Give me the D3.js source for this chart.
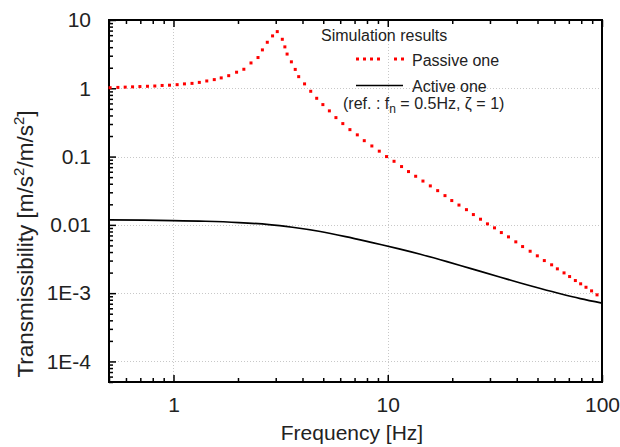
<!DOCTYPE html>
<html>
<head>
<meta charset="utf-8">
<script src="https://cdn.jsdelivr.net/npm/d3@7"></script>
<style>
  html, body { margin: 0; padding: 0; background: #fff; }
  svg { display: block; font-family: "Liberation Sans", Arial, Helvetica, sans-serif; }
</style>
</head>
<body>
<svg id="chart" width="620" height="447"></svg>
<script>
// ---- data ----
const passiveFreq = [0.506,0.55,0.595,0.644,0.697,0.756,0.818,0.885,0.958,1.04,1.125,1.22,1.32,1.43,1.55,1.67,1.81,1.97,2.13,2.30,2.48,2.60,2.74,2.90,3.05,3.22,3.31,3.39,3.55,3.70,3.84,4.09,4.37,4.66,4.98,5.34,5.73,6.17,6.66,7.21,7.77,8.43,9.13,9.87,10.7,11.6,12.5,13.5,14.6,15.8,17.1,18.5,19.9,21.5,23.3,25.1,27.1,29.2,31.5,33.9,36.6,39.6,42.6,46.2,49.9,53.8,58.2,61.9,66.5,70.6,75.1,79.5,84.2,89.4,94.8];
const passiveVal = [1.02,1.03,1.04,1.05,1.06,1.07,1.08,1.10,1.11,1.13,1.16,1.18,1.22,1.28,1.34,1.42,1.53,1.72,1.90,2.35,2.82,3.65,4.72,5.85,6.76,5.22,4.04,3.17,2.44,1.89,1.48,1.16,0.904,0.714,0.577,0.467,0.372,0.304,0.248,0.208,0.171,0.143,0.120,0.100,0.0853,0.0714,0.0603,0.0515,0.0438,0.0372,0.0317,0.0268,0.0227,0.0195,0.0167,0.01415,0.0121,0.01034,0.00904,0.00771,0.00667,0.00564,0.00481,0.00411,0.00352,0.0030,0.0026,0.00227,0.00198,0.00175,0.00153,0.00137,0.00122,0.00108,0.000944];
const activeFreq = [0.5,0.99,1.41,2.02,2.79,3.59,4.77,6.36,8.47,11.3,14.2,17.6,21.8,27.1,33.6,41.6,51.6,63.9,79.2,100];
const activeVal = [0.01183,0.01156,0.0113,0.0108,0.0101,0.00922,0.00806,0.00674,0.0055,0.00445,0.00371,0.00308,0.00254,0.00208,0.00171,0.00141,0.00117,0.00098,0.000833,0.000716];

const xTickValues = [1, 10, 100];
const xTickLabels = ["1", "10", "100"];
const yTickValues = [10, 1, 0.1, 0.01, 0.001, 0.0001];
const yTickLabels = ["10", "1", "0.1", "0.01", "1E-3", "1E-4"];
const xDomain = [0.5, 100];
const yDomain = [5e-5, 10];

const legendTitle = "Simulation results";
const seriesNames = ["Passive one", "Active one"];

// ---- layout ----
const L = 109, R = 602, T = 20, B = 382;
const svg = d3.select("#chart");

const x = d3.scaleLog().domain(xDomain).range([L, R]);
const y = d3.scaleLog().domain(yDomain).range([B, T]);

// minor tick values
const xMinor = [];
for (let k = -1; k <= 1; k++) for (let m = 1; m <= 9; m++) {
  const v = m * Math.pow(10, k);
  if (v >= xDomain[0] && v <= xDomain[1] && !xTickValues.includes(v)) xMinor.push(v);
}
const yMinor = [];
for (let k = -5; k <= 0; k++) for (let m = 2; m <= 9; m++) {
  const v = +(m * Math.pow(10, k)).toPrecision(6);
  if (v >= yDomain[0] && v <= yDomain[1]) yMinor.push(v);
}

// ---- grid ----
const grid = svg.append("g").attr("stroke", "#c8c8c8").attr("stroke-width", 1).attr("stroke-dasharray", "1,2");
grid.selectAll("line.gx").data([1, 10]).join("line")
  .attr("x1", d => Math.round(x(d)) + 0.5).attr("x2", d => Math.round(x(d)) + 0.5)
  .attr("y1", T).attr("y2", B);
grid.selectAll("line.gy").data([1, 0.1, 0.01, 0.001, 0.0001]).join("line")
  .attr("y1", d => Math.round(y(d)) + 0.5).attr("y2", d => Math.round(y(d)) + 0.5)
  .attr("x1", L).attr("x2", R);

// ---- axes (inward ticks, D3 axis generators) ----
function styleAxis(g) {
  g.select(".domain").remove();
  g.selectAll(".tick line").attr("stroke", "#000").attr("stroke-width", 1.5);
}
const labelFont = '"Liberation Sans", Arial, sans-serif';
// bottom major
svg.append("g").attr("transform", `translate(0,${B})`)
  .call(d3.axisBottom(x).tickValues(xTickValues).tickSize(-7).tickFormat((d, i) => xTickLabels[i]))
  .call(styleAxis)
  .call(g => g.selectAll("text").attr("font-size", 21).attr("fill", "#222")
    .attr("font-family", labelFont).attr("dy", "0.71em").attr("y", 15));
// bottom minor
svg.append("g").attr("transform", `translate(0,${B})`)
  .call(d3.axisBottom(x).tickValues(xMinor).tickSize(-4).tickFormat(""))
  .call(styleAxis);
// top major + minor
svg.append("g").attr("transform", `translate(0,${T})`)
  .call(d3.axisTop(x).tickValues(xTickValues).tickSize(-7).tickFormat(""))
  .call(styleAxis);
svg.append("g").attr("transform", `translate(0,${T})`)
  .call(d3.axisTop(x).tickValues(xMinor).tickSize(-4).tickFormat(""))
  .call(styleAxis);
// left major
svg.append("g").attr("transform", `translate(${L},0)`)
  .call(d3.axisLeft(y).tickValues(yTickValues).tickSize(-7).tickFormat((d, i) => yTickLabels[i]).tickPadding(18))
  .call(styleAxis)
  .call(g => g.selectAll("text").attr("font-size", 21).attr("fill", "#222")
    .attr("font-family", labelFont));
// left minor
svg.append("g").attr("transform", `translate(${L},0)`)
  .call(d3.axisLeft(y).tickValues(yMinor).tickSize(-4).tickFormat(""))
  .call(styleAxis);

// frame
svg.append("rect").attr("x", L).attr("y", T).attr("width", R - L).attr("height", B - T)
  .attr("fill", "none").attr("stroke", "#000").attr("stroke-width", 2);

// ---- series ----
svg.append("clipPath").attr("id", "plotclip")
  .append("rect").attr("x", L - 2).attr("y", T).attr("width", R - L + 4).attr("height", B - T);

const activeData = activeFreq.map((f, i) => [f, activeVal[i]]);
const line = d3.line().x(d => x(d[0])).y(d => y(d[1])).curve(d3.curveCatmullRom.alpha(0.5));
svg.append("path").datum(activeData)
  .attr("d", line).attr("fill", "none").attr("stroke", "#000").attr("stroke-width", 1.7)
  .attr("clip-path", "url(#plotclip)");

const passiveData = passiveFreq.map((f, i) => [f, passiveVal[i]]);
svg.append("g").selectAll("rect").data(passiveData).join("rect")
  .attr("x", d => x(d[0]) - 1.5).attr("y", d => y(d[1]) - 1.5)
  .attr("width", 3).attr("height", 3).attr("fill", "#ff0000");

// ---- legend ----
const lg = svg.append("g").attr("font-size", 16).attr("fill", "#222");
lg.append("text").attr("x", 321).attr("y", 41).text(legendTitle);
lg.append("line").attr("x1", 356).attr("x2", 404).attr("y1", 59).attr("y2", 59)
  .attr("stroke", "#ff0000").attr("stroke-width", 3)
  .attr("stroke-dasharray", "3,4,3,4,3,4,3,14,3,4,3,100");
lg.append("text").attr("x", 412).attr("y", 65.5).text(seriesNames[0]);
lg.append("line").attr("x1", 356).attr("x2", 403).attr("y1", 85.5).attr("y2", 85.5)
  .attr("stroke", "#000").attr("stroke-width", 1.5);
lg.append("text").attr("x", 412).attr("y", 91.5).text(seriesNames[1]);
const ref = lg.append("text").attr("x", 343).attr("y", 108.5);
ref.append("tspan").text("(ref. : f");
ref.append("tspan").attr("font-size", 12).attr("dy", 4).text("n");
ref.append("tspan").attr("dy", -4).text(" = 0.5Hz, \u03B6 = 1)");

// ---- axis titles ----
svg.append("text").attr("x", 352).attr("y", 440).attr("text-anchor", "middle")
  .attr("font-size", 21).attr("fill", "#222").text("Frequency [Hz]");
const yt = svg.append("text").attr("transform", "translate(33,244) rotate(-90)")
  .attr("text-anchor", "middle").attr("font-size", 22.5).attr("fill", "#222");
yt.append("tspan").text("Transmissibility [m/s");
yt.append("tspan").attr("font-size", 15).attr("dy", -9).text("2");
yt.append("tspan").attr("dy", 9).text("/m/s");
yt.append("tspan").attr("font-size", 15).attr("dy", -9).text("2");
yt.append("tspan").attr("dy", 9).text("]");
</script>
</body>
</html>
